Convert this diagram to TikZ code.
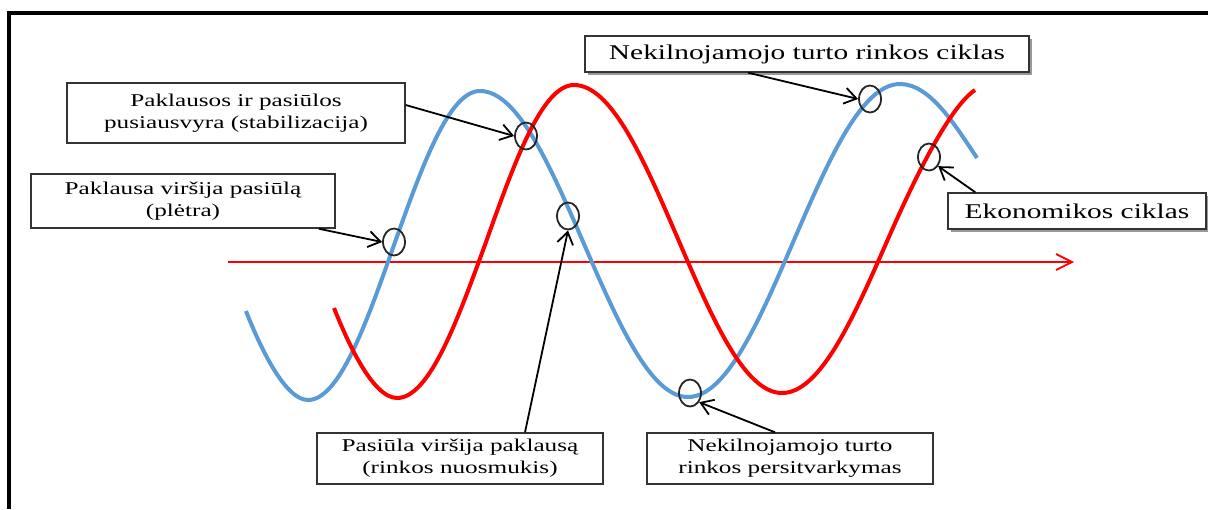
\documentclass[tikz,border=0pt]{standalone}
\usepackage{fontspec}
\setmainfont{Liberation Serif}
\newfontfamily\wideserif[FakeStretch=1.4]{Liberation Serif}
\usetikzlibrary{arrows.meta,shadows,shapes.geometric}
\definecolor{cblue}{RGB}{91,155,213}
\definecolor{cred}{RGB}{255,0,0}
\begin{document}
\begin{tikzpicture}[x=0.5pt,y=-0.5pt,
  lbl/.style={draw=black!80,line width=0.7pt,fill=white,inner sep=0pt,align=center,
    font=\wideserif\fontsize{9}{11}\selectfont},
  lblbig/.style={lbl,font=\wideserif\fontsize{10.5}{12}\selectfont},
  shad/.style={drop shadow={shadow xshift=1.5pt,shadow yshift=-1.5pt,opacity=0.4,fill=black}},
  wave/.style={line width=2pt},
  ring/.style={ellipse,draw=black!85,line width=0.9pt,minimum width=11pt,minimum height=13.5pt,inner sep=0pt},
  pointer/.style={draw=black,line width=0.9pt,-{Straight Barb[length=6pt,width=8pt,line width=0.9pt]}},
  axisarrow/.style={draw=cred,line width=0.9pt,-{Straight Barb[length=8pt,width=8pt,line width=0.9pt]}}]
\useasboundingbox (0,0) rectangle (1208,509);
\fill[white] (0,0) rectangle (1208,509);
% frame
\draw[line width=1.6pt] (9,509) -- (9,13) -- (1208,13);
% axis
\coordinate (ax0) at (228,262);
\coordinate (ax1) at (1074,262);
\draw[axisarrow] (ax0) -- (ax1);
% waves
\draw[wave,cblue] (246,311) .. controls (258,342) and (284,400) .. (308,400)
  cos (394,245) sin (480,91) cos (584,244) sin (688,397) cos (794,240) sin (900,84)
  .. controls (930,84) and (955,125) .. (977,158);
\draw[wave,cred] (334,308) .. controls (346,338) and (372,398) .. (397,398)
  cos (486,242) sin (574,85) cos (678,239) sin (782,393) cos (888,239)
  .. controls (917,173) and (950,107) .. (975,90);
% rings
\node[ring] (ea) at (394,242) {};
\node[ring] (eb) at (526,136) {};
\node[ring] (ec) at (568,216) {};
\node[ring] (ed) at (690,393) {};
\node[ring] (ee) at (870,99) {};
\node[ring] (ef) at (929,157) {};
% boxes
\node[lbl,minimum width=169pt,minimum height=30pt] (b1) at (236,113)
  {Paklausos ir pasiūlos\\pusiausvyra (stabilizacija)};
\node[lbl,minimum width=152pt,minimum height=27pt] (b2) at (183,201)
  {Paklausa viršija pasiūlą\\(plėtra)};
\node[lblbig,shad,minimum width=222pt,minimum height=18pt] (b3) at (807,54)
  {Nekilnojamojo turto rinkos ciklas};
\node[lblbig,shad,minimum width=129pt,minimum height=18pt] (b4) at (1077,211)
  {Ekonomikos ciklas};
\node[lbl,minimum width=143pt,minimum height=25.5pt] (b5) at (460,458.5)
  {Pasiūla viršija paklausą\\(rinkos nuosmukis)};
\node[lbl,minimum width=143pt,minimum height=25.5pt] (b6) at (790,458.5)
  {Nekilnojamojo turto\\rinkos persitvarkymas};
% pointers
\draw[pointer] ([yshift=4pt]b1.east) -- (eb.west);
\draw[pointer] ([xshift=-8.5pt]b2.south east) -- (ea.west);
\draw[pointer] ([xshift=32.5pt]b5.north) -- (ec.south);
\draw[pointer] ([xshift=-7.5pt]b6.north) -- (ed.-45);
\draw[pointer] ([xshift=-29.5pt]b3.south) -- (ee.west);
\draw[pointer] ([xshift=14pt]b4.north west) -- (ef.-45);
\end{tikzpicture}
\end{document}
